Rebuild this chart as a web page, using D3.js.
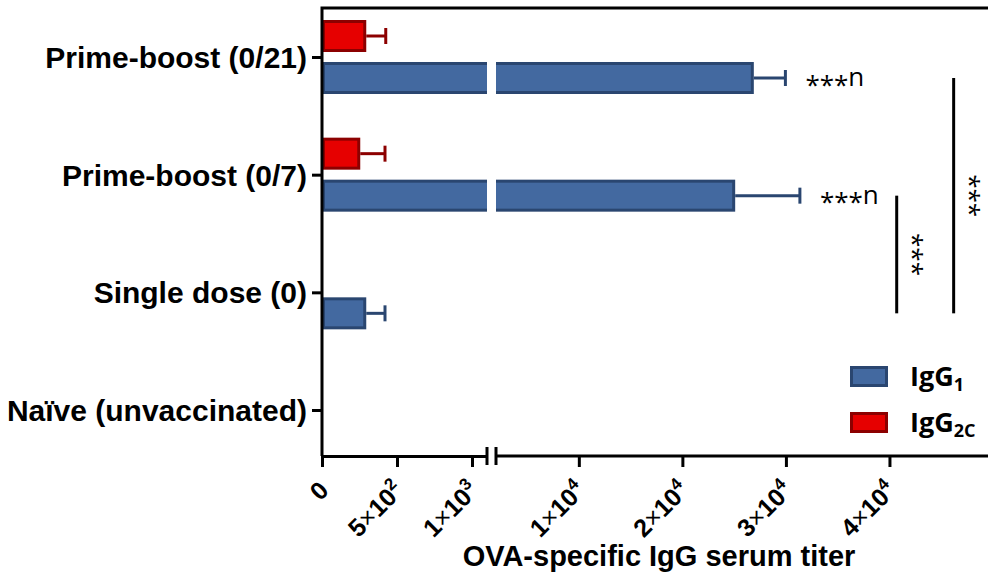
<!DOCTYPE html>
<meta charset="utf-8">
<style>
body { margin: 0; background: #fff; }
.cat text { font: bold 30px "Liberation Sans", Arial, sans-serif; fill: #000; }
.xlab text { font: bold 25px "Liberation Sans", Arial, sans-serif; fill: #000; }
.axis path, .axis line, .frame { fill: none; stroke: #000; stroke-width: 3; }
.title { font: bold 29px "Liberation Sans", Arial, sans-serif; }
.sig { font: 26px "Open Sans", sans-serif; }
.legend text { font: bold 27px "Open Sans", sans-serif; }
</style>
<svg class="chart"></svg>
<script src="https://d3js.org/d3.v7.min.js"></script>
<script>

var categories = ["Prime-boost (0/21)", "Prime-boost (0/7)", "Single dose (0)", "Naïve (unvaccinated)"];
var igg1Mean = [26900, 25100, 295, 0];
var igg1Err = [3050, 6250, 125, 0];
var igg2cMean = [295, 255, 0, 0];
var igg2cErr = [130, 165, 0, 0];
var igg1Sig = ["***n", "***n", "", ""];
var tickValues = [0, 500, 1000, 10000, 20000, 30000, 40000];
var tickLabels = ["0", "5×10^2", "1×10^3", "1×10^4", "2×10^4", "3×10^4", "4×10^4"];
var lowDomain = [0, 1100], highDomain = [2000, 50000];
// significance brackets between IgG1 bars
var brackets = [
  {from: "Prime-boost (0/7)", to: "Single dose (0)", at: 40700, label: "***"},
  {from: "Prime-boost (0/21)", to: "Single dose (0)", at: 46200, label: "***"}
];

var width = 988, height = 578;
var plotLeft = 322, plotTop = 8, plotBottom = 456;

var svg = d3.select(".chart").attr("width", width).attr("height", height);

var xLow = d3.scaleLinear().domain(lowDomain).range([plotLeft, 487]);
var xHigh = d3.scaleLinear().domain(highDomain).range([496, 993]);
function x(v) { return v <= lowDomain[1] ? xLow(v) : xHigh(v); }

var y = d3.scalePoint().domain(categories).range([57, 410]);
var sub = d3.scaleBand().domain(["IgG2c", "IgG1"]).range([-37, 37]).paddingInner(0.238);

var colors = {
  IgG1: {fill: "#4369a0", stroke: "#2a4670"},
  IgG2c: {fill: "#e60000", stroke: "#8c0000"}
};

var rows = categories.map(function(c, i) {
  return [
    {cat: c, s: "IgG2c", v: igg2cMean[i], e: igg2cErr[i]},
    {cat: c, s: "IgG1", v: igg1Mean[i], e: igg1Err[i], sig: igg1Sig[i]}
  ];
});
var bars = d3.merge(rows).filter(function(d){ return d.v > 0; });

// error bars
var eb = svg.append("g").selectAll("g").data(bars).enter().append("g")
  .attr("stroke", function(d){ return colors[d.s].stroke; })
  .attr("stroke-width", 3);
eb.append("line")
  .attr("x1", function(d){ return x(d.v); })
  .attr("x2", function(d){ return x(d.v + d.e); })
  .attr("y1", function(d){ return y(d.cat) + sub(d.s) + sub.bandwidth()/2; })
  .attr("y2", function(d){ return y(d.cat) + sub(d.s) + sub.bandwidth()/2; });
eb.append("line")
  .attr("x1", function(d){ return x(d.v + d.e); })
  .attr("x2", function(d){ return x(d.v + d.e); })
  .attr("y1", function(d){ return y(d.cat) + sub(d.s) + sub.bandwidth()/2 - 8; })
  .attr("y2", function(d){ return y(d.cat) + sub(d.s) + sub.bandwidth()/2 + 8; });

// bars
svg.append("g").selectAll("rect").data(bars).enter().append("rect")
  .attr("x", x(0) + 1.5)
  .attr("y", function(d){ return y(d.cat) + sub(d.s) + 1.5; })
  .attr("width", function(d){ return x(d.v) - x(0) - 3; })
  .attr("height", sub.bandwidth() - 3)
  .attr("fill", function(d){ return colors[d.s].fill; })
  .attr("stroke", function(d){ return colors[d.s].stroke; })
  .attr("stroke-width", 3);

// axis break gap
svg.append("rect")
  .attr("x", xLow.range()[1]).attr("y", plotTop + 2)
  .attr("width", xHigh.range()[0] - xLow.range()[1])
  .attr("height", plotBottom - plotTop - 4)
  .attr("fill", "#fff");

// frame
svg.append("path").attr("class", "frame")
  .attr("d", "M" + width + "," + plotTop + "H" + plotLeft + "V" + plotBottom);

// x axes (two segments)
svg.append("g").attr("class", "axis").attr("transform", "translate(0," + plotBottom + ")")
  .call(d3.axisBottom(xLow).tickValues(tickValues.filter(function(v){ return v <= lowDomain[1]; })).tickSize(11).tickSizeOuter(0).tickFormat(""));
var axHigh = svg.append("g").attr("class", "axis").attr("transform", "translate(0," + plotBottom + ")")
  .call(d3.axisBottom(xHigh).tickValues(tickValues.filter(function(v){ return v > lowDomain[1]; })).tickSize(11).tickSizeOuter(0).tickFormat(""));
axHigh.select(".domain").attr("d", "M" + xHigh.range()[0] + ",0H" + width);

// break marks
svg.append("g").attr("class", "axis").selectAll("line")
  .data([xLow.range()[1], xHigh.range()[0]]).enter().append("line")
  .attr("x1", function(d){ return d; }).attr("x2", function(d){ return d; })
  .attr("y1", plotBottom - 9).attr("y2", plotBottom + 9);

// x tick labels
var xl = svg.append("g").attr("class", "xlab").selectAll("text")
  .data(tickValues).enter().append("text")
  .attr("text-anchor", "end")
  .attr("transform", function(d){ return "translate(" + (x(d) + 8) + "," + (plotBottom + 36) + ") rotate(-45)"; });
xl.each(function(d, i) {
  var parts = tickLabels[i].split("^");
  var t = d3.select(this);
  if (parts.length === 1) { t.text(parts[0]); return; }
  var m = parts[0].split("×");
  t.append("tspan").text(m[0]);
  t.append("tspan").attr("font-weight", "normal").text("×");
  t.append("tspan").text(m[1]);
  t.append("tspan").attr("dy", "-0.6em").attr("font-size", "17px").text(parts[1]);
});

// y axis ticks + labels
var ax = svg.append("g").attr("class", "axis cat").attr("transform", "translate(" + plotLeft + ",0)")
  .call(d3.axisLeft(y).tickSize(10).tickPadding(5));
ax.select(".domain").remove();
ax.selectAll("text").attr("dy", "0.35em");

// title
svg.append("text").attr("class", "title")
  .attr("x", 659).attr("y", 566).attr("text-anchor", "middle")
  .text("OVA-specific IgG serum titer");

// significance labels on IgG1 bars
svg.append("g").selectAll("text").data(bars.filter(function(d){ return d.sig; })).enter()
  .append("text").attr("class", "sig")
  .attr("x", function(d){ return x(d.v + d.e) + 20; })
  .attr("y", function(d){ return y(d.cat) + sub(d.s) + sub.bandwidth()/2 + 8; })
  .each(function(d) {
    var t = d3.select(this);
    t.append("tspan").attr("dy", "0.3em").text(d.sig.slice(0, 3));
    t.append("tspan").attr("dy", "-0.3em").text(d.sig.slice(3));
  });

// brackets
function blueY(c) { return y(c) + sub("IgG1") + sub.bandwidth()/2; }
var br = svg.append("g").selectAll("g").data(brackets).enter().append("g");
br.append("line")
  .attr("x1", function(d){ return x(d.at); }).attr("x2", function(d){ return x(d.at); })
  .attr("y1", function(d){ return blueY(d.from); }).attr("y2", function(d){ return blueY(d.to); })
  .attr("stroke", "#000").attr("stroke-width", 3);
br.append("text").attr("class", "sig")
  .attr("text-anchor", "middle")
  .attr("transform", function(d){ return "translate(" + (x(d.at) + 10) + "," + ((blueY(d.from) + blueY(d.to))/2) + ") rotate(90)"; })
  .attr("dy", "0.1em")
  .text(function(d){ return d.label; });

// legend
var lg = svg.append("g").attr("class", "legend").selectAll("g")
  .data(["IgG1", "IgG2c"]).enter().append("g")
  .attr("transform", function(d, i){ return "translate(850," + (366 + i * 46) + ")"; });
lg.append("rect").attr("x", 1.5).attr("y", 1.5).attr("width", 35).attr("height", 18)
  .attr("fill", function(d){ return colors[d].fill; })
  .attr("stroke", function(d){ return colors[d].stroke; })
  .attr("stroke-width", 3);
lg.append("text").attr("x", 60).attr("y", 20)
  .each(function(d) {
    var t = d3.select(this);
    t.append("tspan").text("IgG");
    t.append("tspan").attr("dy", "0.3em").attr("font-size", "18px").text(d.slice(3).toUpperCase());
  });
</script>
